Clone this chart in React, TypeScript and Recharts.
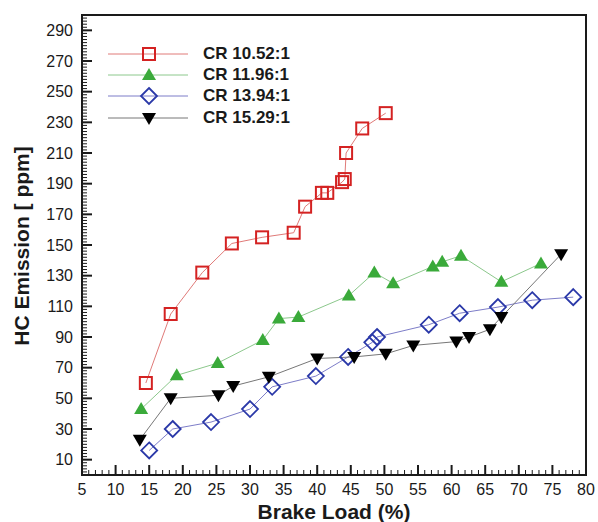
import React from "react"
import { ComposedChart, Line, XAxis, YAxis, ReferenceArea } from "recharts"

// brake load (%) and HC emission (ppm) per compression ratio
const cr1052Load = [14.5, 18.2, 22.9, 27.3, 31.8, 36.5, 38.2, 40.7, 41.5, 43.7, 44.1, 44.3, 46.7, 50.2]
const cr1052Hc = [60, 105, 132, 151, 155, 158, 175, 184, 184, 191, 193, 210, 226, 236]

const cr1196Load = [13.8, 19.1, 25.2, 31.9, 34.3, 37.2, 44.7, 48.5, 51.3, 57.2, 58.6, 61.4, 67.4, 73.3]
const cr1196Hc = [43, 65, 73, 88, 102, 103, 117, 132, 125, 136, 139, 143, 126, 138]

const cr1394Load = [15, 18.5, 24.2, 30, 33.3, 39.8, 44.6, 48.2, 48.9, 56.6, 61.2, 66.9, 72, 78.1]
const cr1394Hc = [16, 30, 34.5, 43, 57.5, 64.5, 77, 86.5, 90, 98, 105.5, 109.5, 114, 116]

const cr1529Load = [13.6, 18.2, 25.3, 27.5, 32.8, 40, 45.5, 50.2, 54.3, 60.7, 62.6, 65.7, 67.4, 76.3]
const cr1529Hc = [23, 50, 52, 58, 64, 76, 77, 79, 84.5, 87, 90, 95, 103, 144]

const xTickLabels = [5, 10, 15, 20, 25, 30, 35, 40, 45, 50, 55, 60, 65, 70, 75, 80]
const yTickLabels = [10, 30, 50, 70, 90, 110, 130, 150, 170, 190, 210, 230, 250, 270, 290]

// minor ticks: every 1 on x, every 2 on y
const xTicks = Array.from({ length: 76 }, (_, i) => 5 + i)
const yTicks = Array.from({ length: 151 }, (_, i) => i * 2)

const zip = (xs: number[], ys: number[]) => xs.map((x, i) => ({ x, y: ys[i] }))

const series = [
  { name: "CR 10.52:1", data: zip(cr1052Load, cr1052Hc), line: "#e07a78", shape: "square" },
  { name: "CR 11.96:1", data: zip(cr1196Load, cr1196Hc), line: "#8cc88c", shape: "triUp" },
  { name: "CR 13.94:1", data: zip(cr1394Load, cr1394Hc), line: "#7d7dc8", shape: "diamond" },
  { name: "CR 15.29:1", data: zip(cr1529Load, cr1529Hc), line: "#777777", shape: "triDown" },
]

const FONT = '"Liberation Sans", Arial, Helvetica, sans-serif'
const INK = "#1a1a1a"

function Marker({ shape, cx, cy }: { shape: string; cx: number; cy: number }) {
  if (shape === "square")
    return <rect x={cx - 6} y={cy - 6} width={12} height={12} fill="none" stroke="#d42222" strokeWidth={2} />
  if (shape === "diamond")
    return (
      <polygon
        points={`${cx},${cy - 8} ${cx + 8},${cy} ${cx},${cy + 8} ${cx - 8},${cy}`}
        fill="none"
        stroke="#2a38a8"
        strokeWidth={1.8}
      />
    )
  if (shape === "triUp")
    return <polygon points={`${cx},${cy - 7} ${cx + 7},${cy + 5} ${cx - 7},${cy + 5}`} fill="#3aaa3a" />
  return <polygon points={`${cx - 7},${cy - 5} ${cx + 7},${cy - 5} ${cx},${cy + 7}`} fill="#000" />
}

function XTick(props: any) {
  const { x, y, payload } = props
  const major = xTickLabels.includes(payload.value)
  return (
    <g>
      <line x1={x} y1={y} x2={x} y2={y - (major ? 10 : 5)} stroke={INK} strokeWidth={major ? 2 : 1} />
      {major && (
        <text x={x} y={y + 14} textAnchor="middle" dominantBaseline="central" fontSize={16} fontFamily={FONT} fill={INK}>
          {payload.value}
        </text>
      )}
    </g>
  )
}

function YTick(props: any) {
  const { x, y, payload } = props
  const major = yTickLabels.includes(payload.value)
  return (
    <g>
      <line x1={x} y1={y} x2={x + (major ? 10 : 5)} y2={y} stroke={INK} strokeWidth={major ? 2 : 1} />
      {major && (
        <text x={x - 9} y={y} textAnchor="end" dominantBaseline="central" fontSize={16} fontFamily={FONT} fill={INK}>
          {payload.value}
        </text>
      )}
    </g>
  )
}

function LegendBox() {
  return (
    <div style={{ position: "absolute", left: 106, top: 43, fontFamily: FONT }}>
      {series.map((s) => (
        <div key={s.name} style={{ display: "flex", alignItems: "center", height: 21.3 }}>
          <svg width={84} height={20} style={{ display: "block" }}>
            <line x1={2} y1={10} x2={82} y2={10} stroke={s.line} strokeWidth={1} />
            <Marker shape={s.shape} cx={43} cy={10} />
          </svg>
          <span style={{ marginLeft: 13, fontSize: 17, fontWeight: "bold", color: INK, whiteSpace: "nowrap" }}>{s.name}</span>
        </div>
      ))}
    </div>
  )
}

export default function App() {
  return (
    <div style={{ position: "absolute", left: 0, top: 0, width: 598, height: 522, background: "#fff" }}>
      <ComposedChart width={598} height={522} margin={{ top: 15, right: 12, bottom: 7, left: 20 }}>
        <XAxis
          type="number"
          dataKey="x"
          domain={[5, 80]}
          ticks={xTicks}
          interval={0}
          height={40}
          tickSize={0}
          tickMargin={0}
          tickLine={false}
          axisLine={false}
          tick={<XTick />}
          allowDataOverflow
          label={{
            content: (p: any) => (
              <text
                x={p.viewBox.x + p.viewBox.width / 2}
                y={p.viewBox.y + 44}
                textAnchor="middle"
                fontSize={21}
                fontWeight="bold"
                fontFamily={FONT}
                fill={INK}
              >
                Brake Load (%)
              </text>
            ),
          }}
        />
        <YAxis
          type="number"
          domain={[0, 300]}
          ticks={yTicks}
          interval={0}
          width={62}
          tickSize={0}
          tickMargin={0}
          tickLine={false}
          axisLine={false}
          tick={<YTick />}
          allowDataOverflow
          label={{
            content: (p: any) => {
              const cx = 21
              const cy = p.viewBox.y + p.viewBox.height / 2 + 1
              return (
                <text
                  x={cx}
                  y={cy}
                  transform={`rotate(-90 ${cx} ${cy})`}
                  textAnchor="middle"
                  dominantBaseline="central"
                  fontSize={21}
                  fontWeight="bold"
                  fontFamily={FONT}
                  fill={INK}
                >
                  HC Emission [ ppm]
                </text>
              )
            },
          }}
        />
        <ReferenceArea x1={5} x2={80} y1={0} y2={300} fill="none" stroke={INK} strokeWidth={2} ifOverflow="visible" />
        {series.map((s) => (
          <Line
            key={s.name}
            data={s.data}
            dataKey="y"
            name={s.name}
            type="linear"
            stroke={s.line}
            strokeWidth={1}
            isAnimationActive={false}
            activeDot={false}
            dot={(p: any) => <Marker key={`${s.name}-${p.index}`} shape={s.shape} cx={p.cx} cy={p.cy} />}
          />
        ))}
      </ComposedChart>
      <LegendBox />
    </div>
  )
}
